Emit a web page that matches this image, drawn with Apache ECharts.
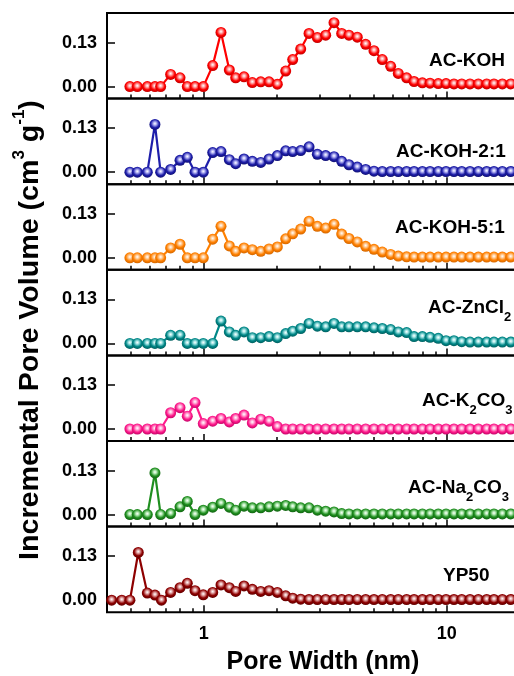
<!DOCTYPE html>
<html><head><meta charset="utf-8">
<script src="https://cdn.jsdelivr.net/npm/echarts@6/dist/echarts.min.js"></script>
<style>html,body{margin:0;padding:0;background:#fff}#c{width:514px;height:676px}</style>
</head><body><div id="c"></div>
<script>
// ---------------- data ----------------
const poreWidth = [0.497,0.533,0.586,0.630,0.665,0.731,0.799,0.856,0.921,0.996,
  1.089,1.178,1.275,1.354,1.465,1.585,1.717,1.857,2.009,2.175,
  2.324,2.507,2.713,2.935,3.177,3.437,3.697,3.96,4.285,4.64,
  5.02,5.43,5.88,6.32,6.84,7.34,7.94,8.54,9.23,9.94,
  10.71,11.53,12.47,13.49,14.61,15.65,16.94,18.34];
const yp50LowWidth = [0.418,0.460,0.497,0.538,0.586,0.630,0.670];
const sampleNames = ['AC-KOH','AC-KOH-2:1','AC-KOH-5:1','AC-ZnCl{s|2}','AC-K{s|2}CO{s|3}','AC-Na{s|2}CO{s|3}','YP50'];
const acKOH = [0,0,0,0,0,0.036,0.026,0,0,0,
  0.062,0.160,0.049,0.026,0.029,0.012,0.014,0.014,0.007,0.046,
  0.080,0.111,0.157,0.145,0.152,0.189,0.157,0.152,0.146,0.125,
  0.106,0.080,0.060,0.039,0.026,0.015,0.011,0.010,0.009,0.009,
  0.008,0.008,0.008,0.008,0.008,0.008,0.008,0.008];
const acKOH21 = [0,0,0,0.141,0,0.008,0.035,0.044,0,0,
  0.058,0.061,0.037,0.025,0.039,0.032,0.029,0.039,0.049,0.063,
  0.061,0.064,0.075,0.053,0.049,0.046,0.032,0.022,0.015,0.008,
  0.003,0.002,0.002,0.002,0.002,0.002,0.002,0.002,0.002,0.002,
  0.002,0.002,0.002,0.002,0.002,0.002,0.002,0.002];
const acKOH51 = [0,0,0,0,0,0.029,0.040,0,0,0,
  0.055,0.093,0.035,0.019,0.029,0.024,0.019,0.026,0.032,0.056,
  0.071,0.085,0.108,0.093,0.088,0.099,0.070,0.057,0.047,0.034,
  0.025,0.017,0.010,0.005,0.003,0.002,0.002,0.002,0.002,0.002,
  0.002,0.002,0.002,0.002,0.002,0.002,0.002,0.002];
const acZnCl2 = [0,0,0,0,0,0.024,0.024,0,0,0,
  0,0.066,0.034,0.024,0.034,0.017,0.017,0.020,0.017,0.029,
  0.036,0.044,0.059,0.051,0.049,0.059,0.049,0.049,0.049,0.049,
  0.046,0.044,0.041,0.034,0.032,0.020,0.020,0.018,0.015,0.008,
  0.008,0.005,0.004,0.004,0.004,0.004,0.004,0.004];
const acK2CO3 = [0,0,0,0,0,0.048,0.063,0.038,0.078,0.016,
  0.023,0.031,0.021,0.031,0.041,0.018,0.029,0.023,0.007,0,
  0,0,0,0,0,0,0,0,0,0,
  0,0,0,0,0,0,0,0,0,0,
  0,0,0,0,0,0,0,0];
const acNa2CO3 = [0,0,0,0.123,0,0.003,0.023,0.039,0,0.013,
  0.022,0.033,0.022,0.013,0.025,0.020,0.020,0.023,0.025,0.027,
  0.023,0.020,0.020,0.013,0.010,0.008,0.003,0.002,0.002,0.002,
  0.002,0.002,0.002,0.002,0.002,0.002,0.002,0.002,0.002,0.002,
  0.002,0.002,0.002,0.002,0.002,0.002,0.002,0.002];
const yp50 = [0,0,0,0.141,0.021,0.015,0,
  0.023,0.037,0.050,0.028,0.016,0.023,0.045,0.037,0.026,0.042,
  0.032,0.026,0.028,0.023,0.013,0.006,0.003,0.002,0.002,0.002,
  0.002,0.002,0.002,0.002,0.002,0.002,0.002,0.002,0.002,0.002,
  0.002,0.002,0.002,0.002,0.002,0.002,0.002,0.002,0.002,0.002,
  0.002,0.002,0.002];
const yTickLabels = [0, 0.13];
const yMinorTicks = [0.065, 0.195];
const xTickLabels = [1, 10];
const xMinorTicks = [0.5,0.6,0.7,0.8,0.9,2,3,4,5,6,7,8,9,20];

// ---------------- styles / layout ----------------
const seriesValues = [acKOH, acKOH21, acKOH51, acZnCl2, acK2CO3, acNa2CO3, yp50];
const seriesWidths = [poreWidth, poreWidth, poreWidth, poreWidth, poreWidth, poreWidth,
  yp50LowWidth.concat(poreWidth.slice(5))];
const palette = [
  ['#ff0000', '#b00000', '#ffb0b0'],
  ['#1e1eaa', '#0c0c66', '#b8b8f5'],
  ['#ff8000', '#c86000', '#ffd4a8'],
  ['#008888', '#005656', '#a8e6e6'],
  ['#ff1a8c', '#b80060', '#ffb8dc'],
  ['#1f8f1f', '#0e5a0e', '#b8ebb8'],
  ['#8e0000', '#580000', '#e6b0b0']
];
const labelPos = [[429,60],[396,151],[395,227],[428,307],[422,400],[408,487],[443,575]];
const FONT = '"Liberation Sans", Arial, Helvetica, sans-serif';
const TOP = 13, PH = 85.6, LEFT = 107, RIGHT = -29.4;
const YMIN = -0.0355, YMAX = 0.2175, XMIN = 0.4, XMAX = 25;

function richName(n) {
  const parts = n.split(/(\{s\|[^}]*\})/).filter(p => p.length);
  return parts.map(p => p.startsWith('{s|') ? p : '{m|' + p + '}').join('');
}

const grids = [], xAxes = [], yAxes = [], series = [], graphics = [];
for (let i = 0; i < 7; i++) {
  grids.push({left: LEFT, right: RIGHT, top: TOP + i * PH, height: PH, show: true,
    borderColor: '#000', borderWidth: 2, backgroundColor: 'transparent', containLabel: false, outerBoundsMode: 'none'});
  const last = i === 6;
  xAxes.push({type: 'log', logBase: 10, gridIndex: i, min: XMIN, max: XMAX, position: 'bottom',
    axisLine: {show: false, onZero: false}, splitLine: {show: false},
    axisTick: {show: true, inside: true, length: 7, lineStyle: {color: '#000', width: 1.5}, customValues: xTickLabels},
    axisLabel: {show: last, customValues: xTickLabels, margin: 13, color: '#000', fontSize: 18, fontWeight: 'bold', fontFamily: FONT,
      formatter: v => String(Math.round(v))}});
  xAxes.push({type: 'log', logBase: 10, gridIndex: i, min: XMIN, max: XMAX, position: 'bottom',
    axisLine: {show: false, onZero: false}, splitLine: {show: false},
    axisTick: {show: true, inside: true, length: 4, lineStyle: {color: '#000', width: 1.5}, customValues: xMinorTicks},
    axisLabel: {show: false}});
  yAxes.push({type: 'value', gridIndex: i, min: YMIN, max: YMAX,
    axisLine: {show: false, onZero: false}, splitLine: {show: false},
    axisTick: {show: true, inside: true, length: 8, lineStyle: {color: '#000', width: 1.5}, customValues: yTickLabels},
    axisLabel: {show: true, customValues: yTickLabels, margin: 10, color: '#000', fontSize: 18, fontWeight: 'bold', fontFamily: FONT,
      formatter: v => v.toFixed(2)}});
  yAxes.push({type: 'value', gridIndex: i, min: YMIN, max: YMAX,
    axisLine: {show: false, onZero: false}, splitLine: {show: false},
    axisTick: {show: true, inside: true, length: 5, lineStyle: {color: '#000', width: 1.5}, customValues: yMinorTicks},
    axisLabel: {show: false}});
  const c = palette[i];
  series.push({type: 'line', xAxisIndex: 2 * i, yAxisIndex: 2 * i,
    data: seriesWidths[i].map((w, j) => [w, seriesValues[i][j]]),
    symbol: 'circle', symbolSize: 11, showSymbol: true, showAllSymbol: true, clip: false,
    lineStyle: {color: c[0], width: 2.2}, animation: false, z: 3,
    itemStyle: {color: {type: 'radial', x: 0.5, y: 0.42, r: 0.62, colorStops: [
      {offset: 0, color: '#ffffff'}, {offset: 0.22, color: c[2]}, {offset: 0.6, color: c[0]}, {offset: 1, color: c[1]}]}},
    emphasis: {disabled: true}});
  graphics.push({type: 'text', x: labelPos[i][0], y: labelPos[i][1] - 9, z: 10,
    style: {text: richName(sampleNames[i]), verticalAlign: 'top', align: 'left',
      rich: {m: {fontSize: 19, fontWeight: 'bold', fontFamily: FONT, lineHeight: 19, verticalAlign: 'top', fill: '#000', color: '#000'},
             s: {fontSize: 13, fontWeight: 'bold', fontFamily: FONT, lineHeight: 26, verticalAlign: 'bottom', fill: '#000', color: '#000'}}}});
}

graphics.push({type: 'text', x: 28, y: 330, rotation: Math.PI / 2, scaleX: 1.06, z: 10,
  style: {text: '{m|Incremental Pore Volume (cm}{u|3}{m| g}{u|-1}{m|)}', align: 'center', verticalAlign: 'middle',
    rich: {m: {fontSize: 27, fontWeight: 'bold', fontFamily: FONT, lineHeight: 32, verticalAlign: 'bottom', fill: '#000', color: '#000'},
           u: {fontSize: 16, fontWeight: 'bold', fontFamily: FONT, lineHeight: 16, verticalAlign: 'top', fill: '#000', color: '#000'}}}});
graphics.push({type: 'text', x: 323, y: 662, z: 10,
  style: {text: 'Pore Width (nm)', align: 'center', verticalAlign: 'middle',
    font: 'bold 25px ' + FONT, fill: '#000'}});

const chart = echarts.init(document.getElementById('c'), null, {renderer: 'canvas'});
chart.setOption({animation: false, backgroundColor: '#fff',
  grid: grids, xAxis: xAxes, yAxis: yAxes, series: series, graphic: graphics});
</script>
</body></html>
